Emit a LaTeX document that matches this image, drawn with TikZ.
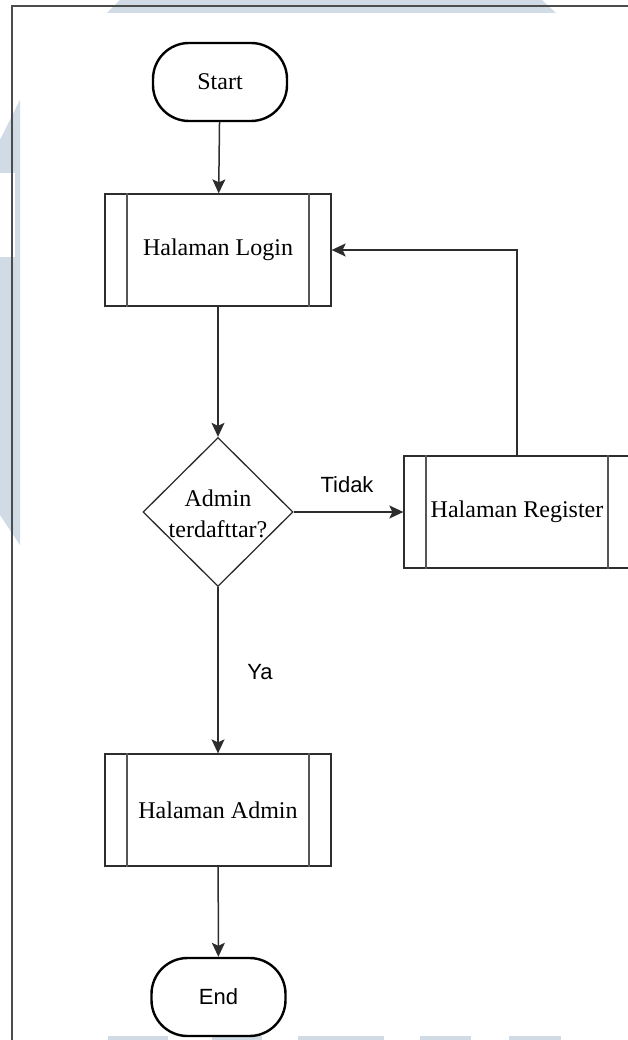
\documentclass[tikz,border=0pt]{standalone}
\usepackage{fontspec}
\setmainfont{Liberation Serif}
\newfontfamily\labelfont{Liberation Sans}
\usetikzlibrary{arrows.meta,shapes.geometric}
\definecolor{wm}{RGB}{208,219,230}
\definecolor{ink}{RGB}{45,45,45}
\definecolor{bar}{RGB}{85,85,85}
\begin{document}
\begin{tikzpicture}[x=1pt,y=-1pt,
  term/.style={draw=black,line width=2.4pt,rounded corners=36pt,
    minimum width=134pt,minimum height=78pt,inner sep=0pt},
  proc/.style={draw=ink,line width=1.3pt,minimum width=226pt,minimum height=112pt,
    inner sep=0pt,font=\fontsize{24}{29}\selectfont},
  decision/.style={draw=ink,line width=1.3pt,diamond,aspect=1,
    minimum width=150pt,minimum height=149pt,inner sep=0pt},
  serif24/.style={font=\fontsize{24}{31}\selectfont,align=center,inner sep=0pt},
  sans22/.style={font=\labelfont\fontsize{22}{26}\selectfont,inner sep=0pt},
  conn/.style={draw=ink,line width=1.5pt,
    -{Stealth[length=14pt,width=13pt,inset=3pt]}},
  barline/.style={draw=bar,line width=1.8pt}
]
\useasboundingbox (0,0) rectangle (628,1040);

% faint watermark shapes in the background
\fill[wm] (107,13) -- (120,0) -- (542,0) -- (556,13) -- cycle;
\fill[wm] (0,140) -- (20,100) -- (20,545) -- (0,515) -- cycle;
\fill[white] (0,173) rectangle (15,257);
\foreach \a/\b in {108/168,212/262,298/384,420/471,509/561}
  \fill[wm] (\a,1036) rectangle (\b,1040);

% page frame
\draw[line width=1.5pt,black!70] (12,1040) -- (12,6) -- (628,6);

% nodes
\node[term,font=\fontsize{24}{29}\selectfont] (start) at (220,82) {Start};
\node[proc] (login) at (218,250) {Halaman Login};
\node[decision] (dec) at (218,512) {};
\node[serif24] (dectext) at (218,514) {Admin\\terdafttar?};
\node[proc] (reg) at (517,512) {Halaman Register};
\node[proc] (admin) at (218,810) {Halaman Admin};
\node[term,font=\labelfont\fontsize{22}{26}\selectfont] (endn) at (218.5,997) {End};

% side bars of the predefined-process boxes
\foreach \n in {login,reg,admin}{
  \draw[barline] ([xshift=23pt]\n.north west) -- ([xshift=23pt]\n.south west);
  \draw[barline] ([xshift=-23pt]\n.north east) -- ([xshift=-23pt]\n.south east);
}

% labels on the branches
\node[sans22] (tidak) at (347,485) {Tidak};
\node[sans22] (ya) at (260,672) {Ya};

% connectors
\draw[conn] (start) -- (login);
\draw[conn] (login) -- (dec);
\draw[conn] (dec) -- (reg);
\draw[conn] (reg.north) |- (login.east);
\draw[conn] (dec) -- (admin);
\draw[conn] (admin) -- (endn);
\end{tikzpicture}
\end{document}
